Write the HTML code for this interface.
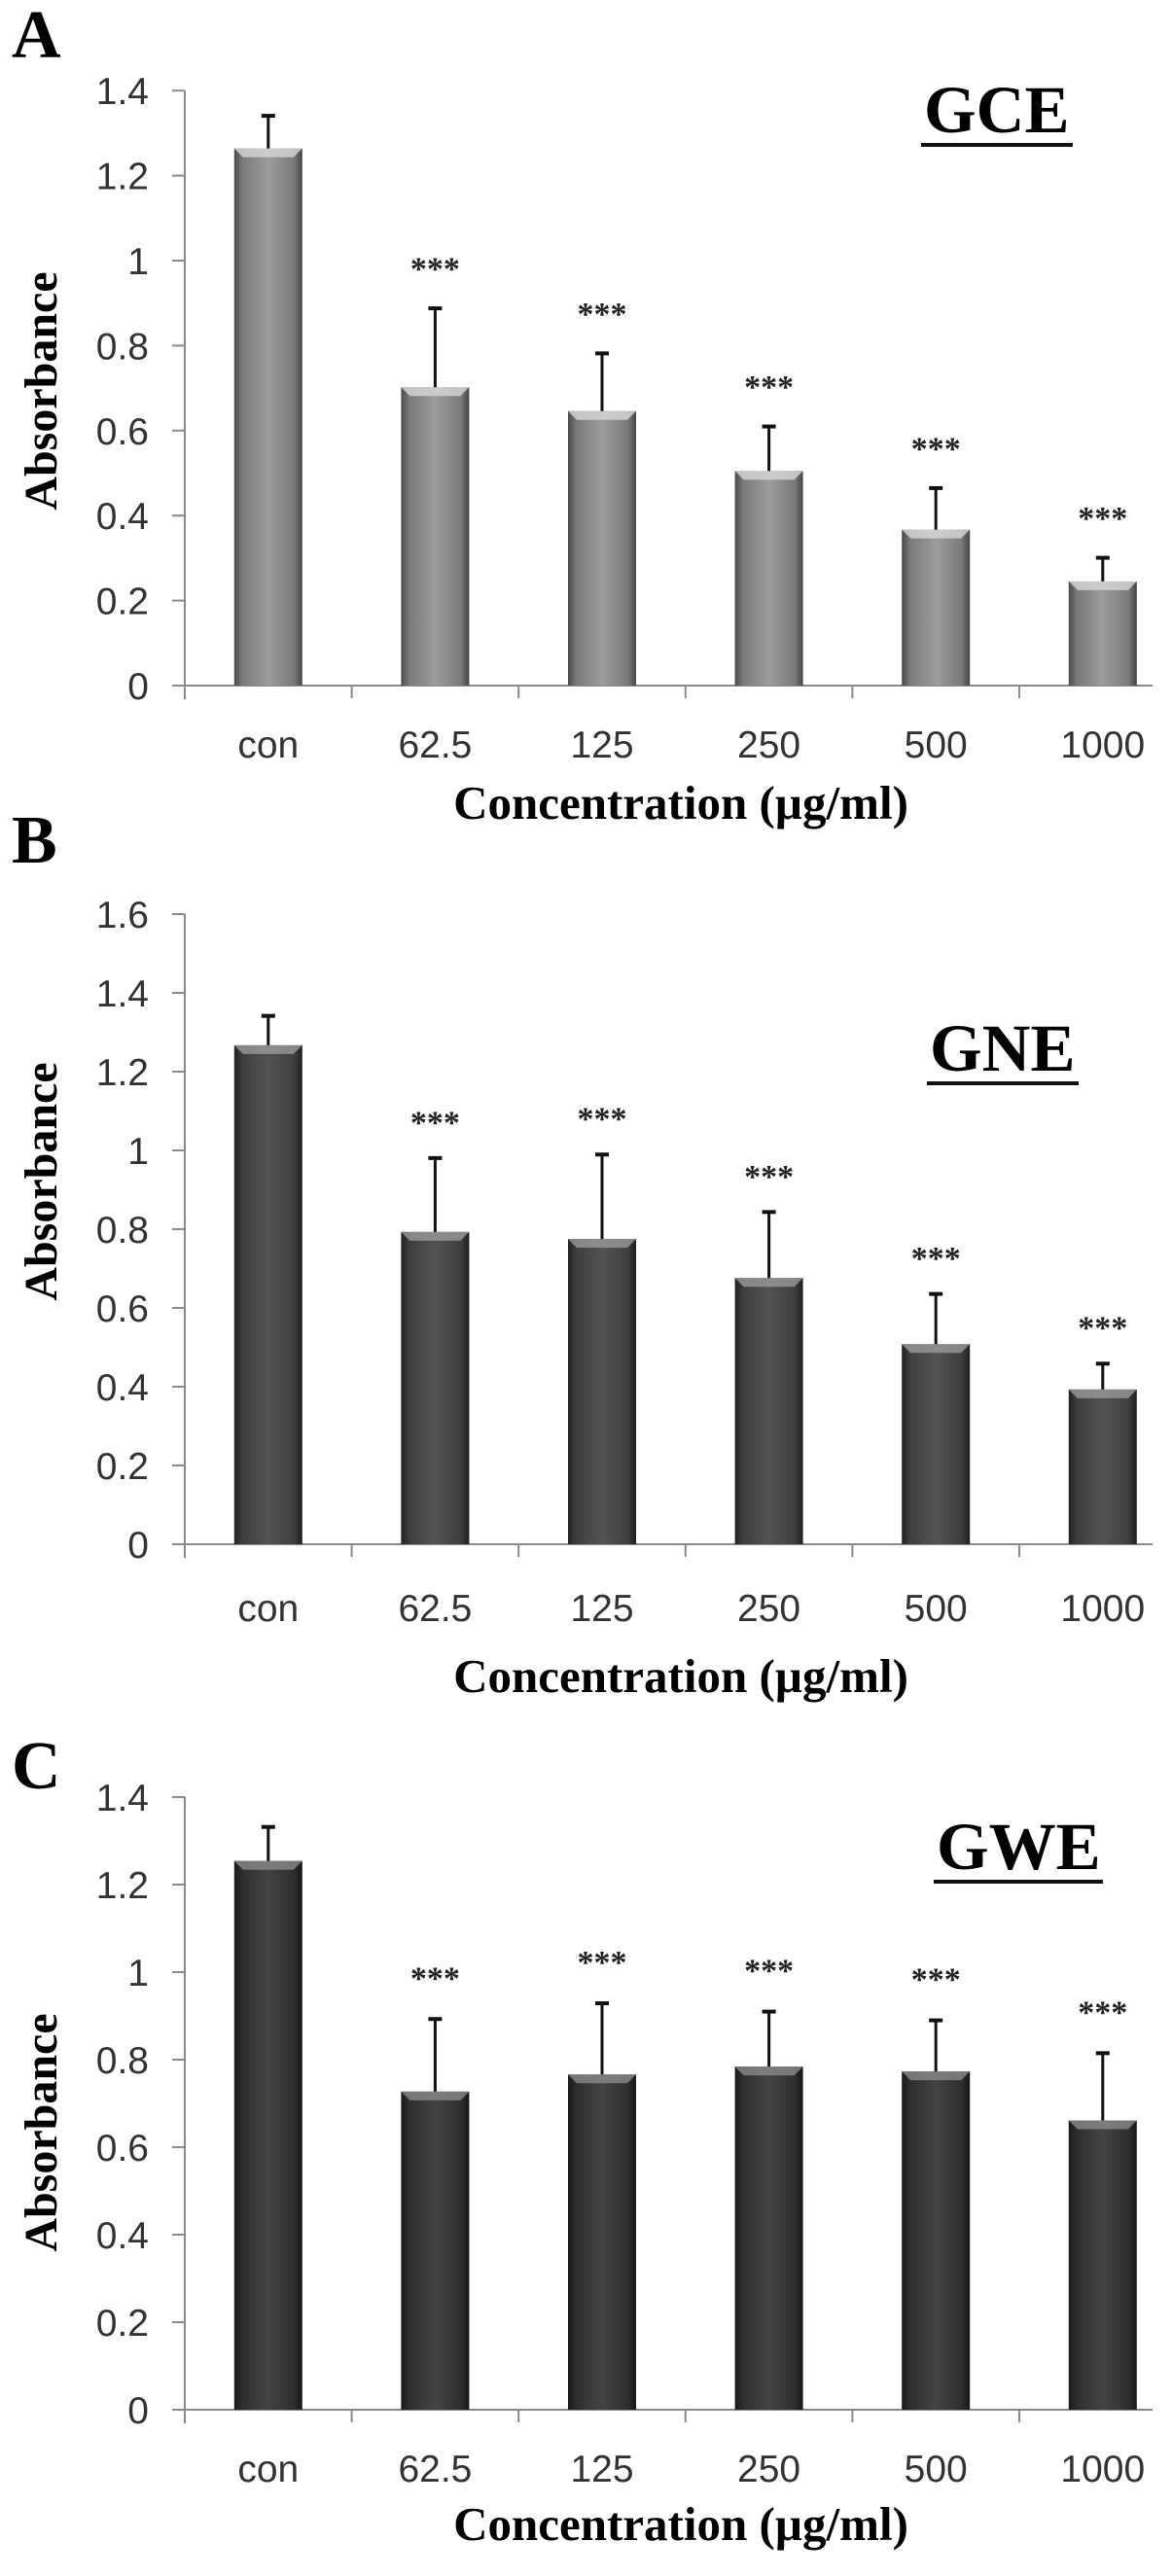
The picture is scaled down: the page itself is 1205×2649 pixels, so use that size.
<!DOCTYPE html>
<html><head><meta charset="utf-8">
<style>
html,body{margin:0;padding:0;background:#fff;}
svg{display:block;}
</style></head>
<body>
<svg id="fig" width="1205" height="2649" viewBox="0 0 1205 2649" xmlns="http://www.w3.org/2000/svg">
<defs>
  <linearGradient id="gA" x1="0" x2="1" y1="0" y2="0">
    <stop offset="0" stop-color="#4a4a4a"/><stop offset="0.12" stop-color="#7a7a7a"/>
    <stop offset="0.5" stop-color="#9c9c9c"/><stop offset="0.88" stop-color="#7a7a7a"/><stop offset="1" stop-color="#444"/>
  </linearGradient>
  <linearGradient id="gB" x1="0" x2="1" y1="0" y2="0">
    <stop offset="0" stop-color="#222"/><stop offset="0.12" stop-color="#3e3e3e"/>
    <stop offset="0.5" stop-color="#535353"/><stop offset="0.88" stop-color="#3e3e3e"/><stop offset="1" stop-color="#1e1e1e"/>
  </linearGradient>
  <linearGradient id="gC" x1="0" x2="1" y1="0" y2="0">
    <stop offset="0" stop-color="#1a1a1a"/><stop offset="0.12" stop-color="#2e2e2e"/>
    <stop offset="0.5" stop-color="#444"/><stop offset="0.88" stop-color="#2e2e2e"/><stop offset="1" stop-color="#161616"/>
  </linearGradient>
</defs>
</svg>
<script>
// shared categories
const categories = ["con","62.5","125","250","500","1000"];
// Panel A (GCE)
const valuesA = [1.264, 0.702, 0.646, 0.505, 0.367, 0.245];
const errorsA = [0.079, 0.188, 0.138, 0.107, 0.100, 0.058];
const starsA  = [false, true, true, true, true, true];
const ticksA  = ["0","0.2","0.4","0.6","0.8","1","1.2","1.4"];
// Panel B (GNE)
const valuesB = [1.267, 0.793, 0.775, 0.676, 0.508, 0.393];
const errorsB = [0.077, 0.190, 0.217, 0.170, 0.130, 0.068];
const starsB  = [false, true, true, true, true, true];
const ticksB  = ["0","0.2","0.4","0.6","0.8","1","1.2","1.4","1.6"];
// Panel C (GWE)
const valuesC = [1.254, 0.727, 0.766, 0.784, 0.773, 0.661];
const errorsC = [0.080, 0.168, 0.165, 0.128, 0.119, 0.156];
const starsC  = [false, true, true, true, true, true];
const ticksC  = ["0","0.2","0.4","0.6","0.8","1","1.2","1.4"];

const NS = "http://www.w3.org/2000/svg";
const svg = document.getElementById('fig');
function mk(tag, attrs, parent){
  const e = document.createElementNS(NS, tag);
  for (const k in attrs) e.setAttribute(k, attrs[k]);
  (parent||svg).appendChild(e);
  return e;
}

const panels = [
  {key:"a", letter:"A", letterY:59, title:"GCE", titleX:950, titleBase:136, zeroY:705, unit:437, vals:valuesA, errs:errorsA, stars:starsA, ticks:ticksA, grad:"url(#gA)", bevel:"#d8d8d8", xlabY:779, xtitleBase:842, absY:402},
  {key:"b", letter:"B", letterY:887, title:"GNE", titleX:956, titleBase:1101, zeroY:1588, unit:405, vals:valuesB, errs:errorsB, stars:starsB, ticks:ticksB, grad:"url(#gB)", bevel:"#9a9a9a", xlabY:1667, xtitleBase:1740, absY:1215},
  {key:"c", letter:"C", letterY:1839, title:"GWE", titleX:963, titleBase:1922, zeroY:2478, unit:450, vals:valuesC, errs:errorsC, stars:starsC, ticks:ticksC, grad:"url(#gC)", bevel:"#8a8a8a", xlabY:2552, xtitleBase:2612, absY:2193}
];

const X0 = 190, CAT = 171.6, BW = 70, XEND = 1185;

panels.forEach(p => {
  const g = mk('g', {});
  
  
  const y = v => p.zeroY - v * p.unit;
  const xc = i => X0 + CAT * (i + 0.5);

  const L = mk('text', {x:12, y:p.letterY, 'font-family':'Liberation Serif, serif', 'font-weight':'bold', 'font-size':70, fill:'#000'}, g);
  L.textContent = p.letter;
  
  

  const topV = parseFloat(p.ticks[p.ticks.length-1]);
  const ya = mk('line', {x1:X0, y1:y(topV), x2:X0, y2:p.zeroY+14, stroke:'#8a8a8a', 'stroke-width':2}, g);
  
  
  p.ticks.forEach(t => {
    const v = parseFloat(t);
    const tk = mk('line', {x1:177, y1:y(v), x2:X0, y2:y(v), stroke:'#8a8a8a', 'stroke-width':2}, g);
    
    
    const tl = mk('text', {x:153, y:y(v)+14, 'text-anchor':'end', 'font-family':'Liberation Sans, sans-serif', 'font-size':39, fill:'#333'}, g);
    tl.textContent = t;
    
    
  });
  const xa = mk('line', {x1:177, y1:p.zeroY, x2:XEND, y2:p.zeroY, stroke:'#8a8a8a', 'stroke-width':2}, g);
  
  
  for (let i = 1; i < categories.length; i++) {
    const tk = mk('line', {x1:X0+CAT*i, y1:p.zeroY, x2:X0+CAT*i, y2:p.zeroY+13, stroke:'#8a8a8a', 'stroke-width':2}, g);
    
    
  }
  categories.forEach((c, i) => {
    const tl = mk('text', {x:xc(i), y:p.xlabY, 'text-anchor':'middle', 'font-family':'Liberation Sans, sans-serif', 'font-size':39, fill:'#333'}, g);
    tl.textContent = c;
    
    
  });
  p.vals.forEach((v, i) => {
    const x = xc(i) - BW/2, top = y(v);
    const b = mk('rect', {x:x, y:top, width:BW, height:p.zeroY-top, fill:p.grad}, g);
    
    
    const bv = mk('polygon', {points:`${x},${top} ${x+BW},${top} ${x+BW-9},${top+9} ${x+9},${top+9}`, fill:p.bevel, opacity:0.8}, g);
    
    
    const et = y(v + p.errs[i]);
    const el = mk('line', {x1:xc(i), y1:top, x2:xc(i), y2:et, stroke:'#111', 'stroke-width':3}, g);
    
    
    const ec = mk('line', {x1:xc(i)-7, y1:et+1, x2:xc(i)+7, y2:et+1, stroke:'#111', 'stroke-width':4}, g);
    
    
    if (p.stars[i]) {
      const s = mk('text', {x:xc(i), y:et - 0.12*p.unit + 24, 'text-anchor':'middle', 'font-family':'Liberation Serif, serif', 'font-weight':'bold', 'font-size':34, fill:'#222'}, g);
      s.textContent = '***';
      
      
    }
  });
  const t = mk('text', {x:p.titleX, y:p.titleBase, 'font-family':'Liberation Serif, serif', 'font-weight':'bold', 'font-size':69, fill:'#000'}, g);
  t.textContent = p.title;
  
  
  const u = mk('rect', {x:p.titleX-3, y:p.titleBase+11, width:156 + (p.title==="GWE"?18:0), height:4, fill:'#111'}, g);
  
  
  const xt = mk('text', {x:700, y:p.xtitleBase, 'text-anchor':'middle', 'font-family':'Liberation Serif, serif', 'font-weight':'bold', 'font-size':49, fill:'#000'}, g);
  xt.textContent = 'Concentration (µg/ml)';
  
  
  const yt = mk('text', {x:0, y:0, 'text-anchor':'middle', 'font-family':'Liberation Serif, serif', 'font-weight':'bold', 'font-size':48, fill:'#000', transform:`translate(58,${p.absY}) rotate(-90)`}, g);
  yt.textContent = 'Absorbance';
  
  
});
</script>
</body></html>
